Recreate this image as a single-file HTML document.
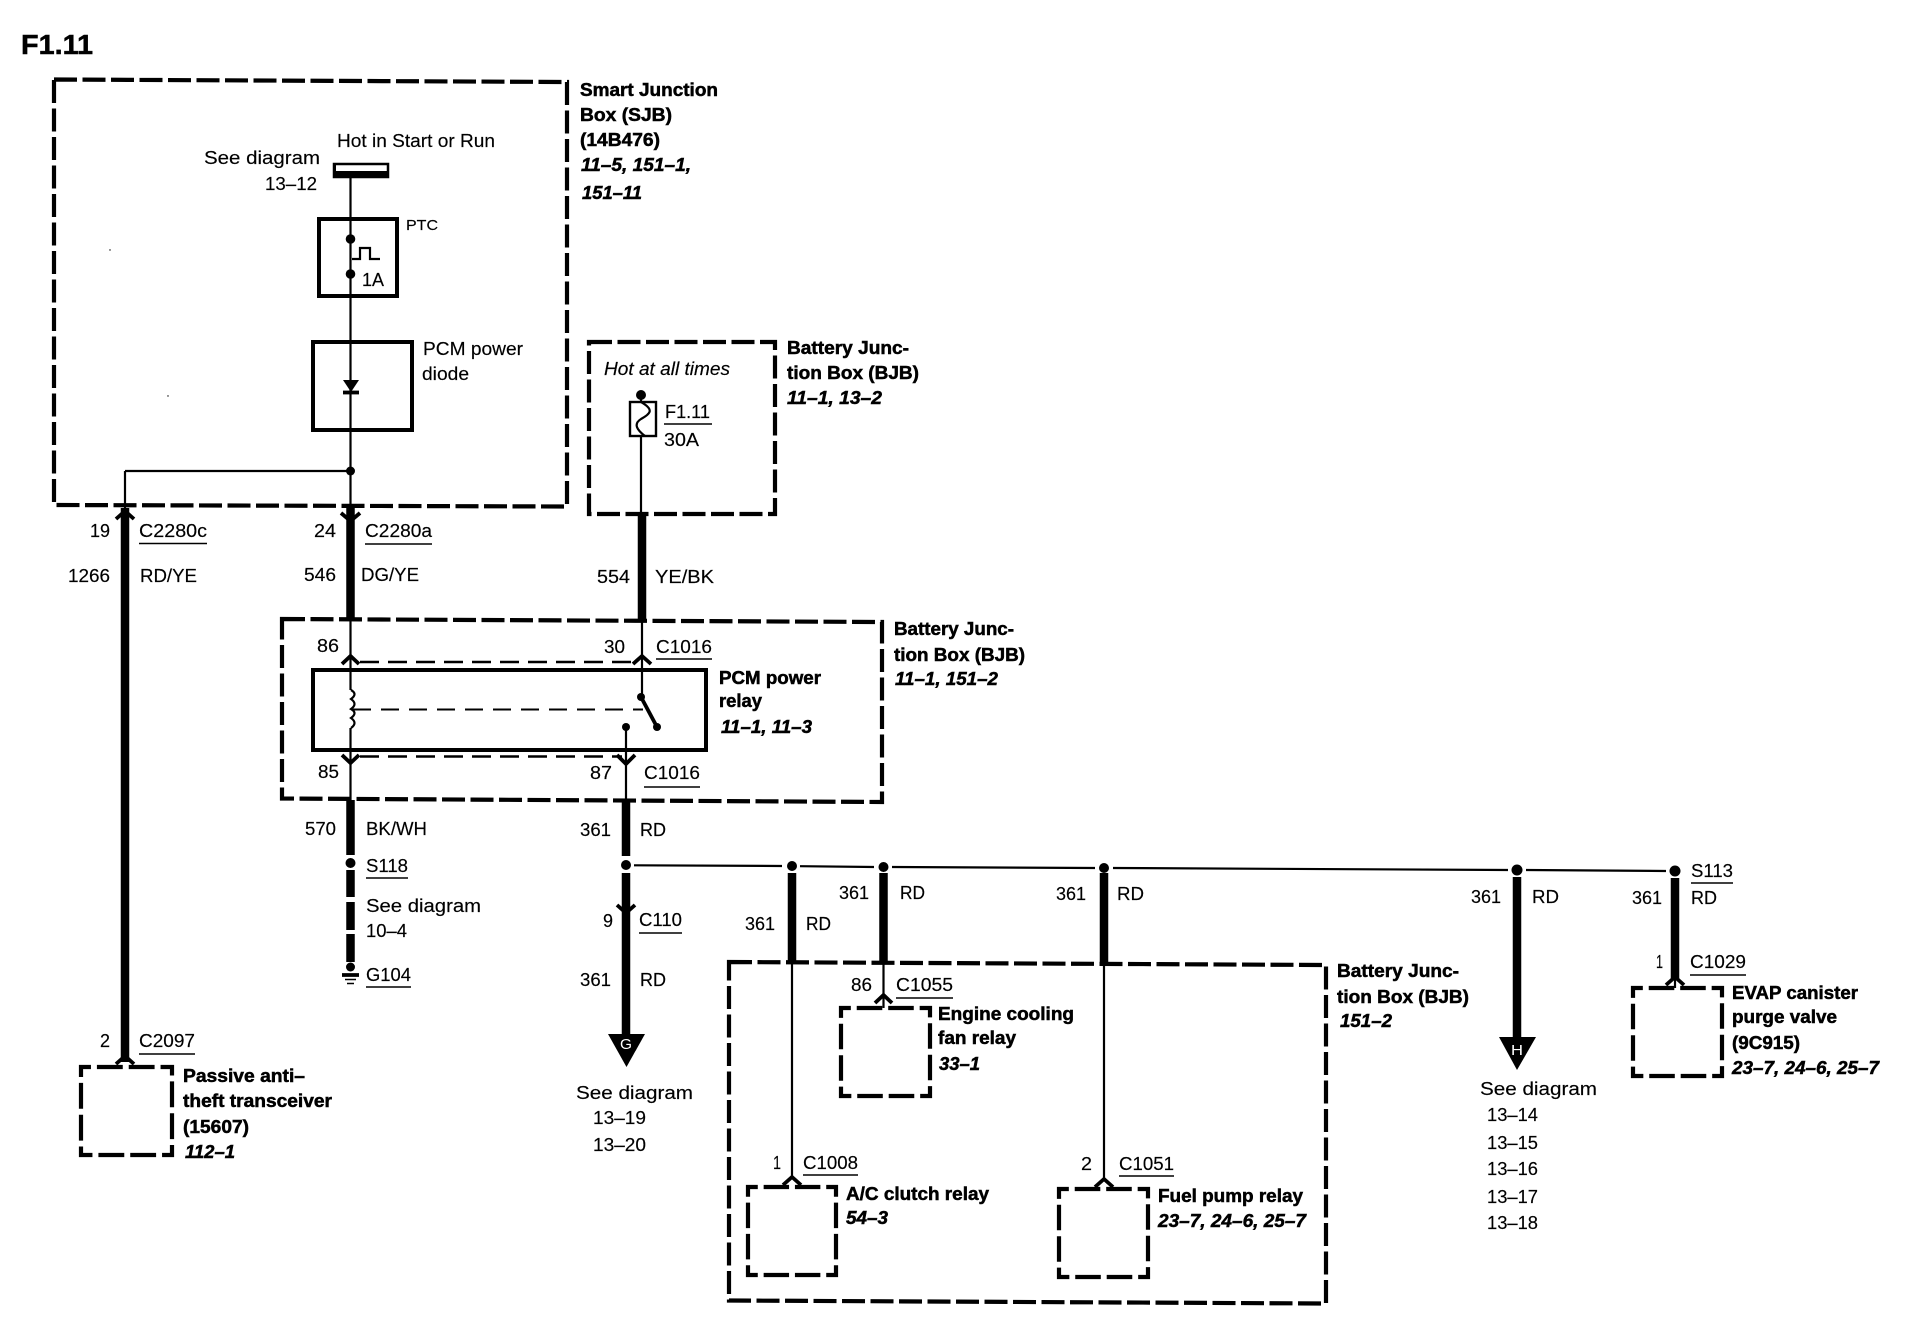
<!DOCTYPE html>
<html lang="en">
<head>
<meta charset="utf-8">
<title>F1.11 wiring diagram</title>
<style>
html,body{margin:0;padding:0;background:#fff;width:1910px;height:1344px;overflow:hidden}
svg{display:block}
text{font-family:"Liberation Sans",Arial,sans-serif;font-size:18px;fill:#000;stroke:#000;stroke-width:.15px}
.b{font-weight:700;stroke:#000;stroke-width:.5px}
.i{font-weight:700;font-style:italic;stroke:#000;stroke-width:.5px}
.n{font-style:italic}
.x{fill:#fff;stroke:none;font-size:15px}
.w{stroke:#000;stroke-width:2.2;fill:none}
.t{stroke:#000;stroke-width:8.5;fill:none}
.u{stroke:#000;stroke-width:1.5;fill:none}
.s{stroke:#000;stroke-width:4;fill:none}
.d{stroke:#000;stroke-width:4.2;fill:none;stroke-dasharray:23 5.5}
.dd{stroke:#000;stroke-width:2.4;fill:none;stroke-dasharray:19 9}
.dc{stroke:#000;stroke-width:1.9;fill:none;stroke-dasharray:18 10}
.m{stroke:#000;stroke-width:4.2;fill:none;stroke-dasharray:20 6 26 6 26 6;stroke-dashoffset:10}
.c{stroke:#000;stroke-width:3.8;fill:none}
</style>
</head>
<body>
<svg xmlns="http://www.w3.org/2000/svg" width="1910" height="1344" viewBox="0 0 1910 1344">
<rect width="1910" height="1344" fill="#fff"/>

<!-- dashed enclosures -->
<path class="d" d="M54,79.500L567,82V506.500L54,505Z"/>
<rect class="d" x="589" y="342" width="186" height="172"/>
<path class="d" d="M282,619L882,622V802L282,798.500Z"/>
<path class="d" d="M729,962L1326,965V1303.500L729,1300.500Z"/>
<rect class="m" pathLength="360" x="81" y="1067" width="91" height="88"/>
<rect class="m" pathLength="360" x="841" y="1008" width="89" height="88"/>
<rect class="m" pathLength="360" x="748" y="1187" width="88" height="88"/>
<rect class="m" pathLength="360" x="1059" y="1189" width="89" height="88"/>
<rect class="m" pathLength="360" x="1633" y="988" width="89" height="88"/>

<!-- solid component boxes -->
<rect class="s" x="319" y="219" width="78" height="77"/>
<rect class="s" x="313" y="342" width="99" height="88"/>
<rect class="s" x="313" y="670" width="393" height="80"/>

<!-- fuse terminal -->
<rect x="334" y="164" width="54" height="13" fill="#fff" stroke="#000" stroke-width="2.5"/>
<rect x="333" y="171" width="55" height="6.500" fill="#000"/>
<rect x="333" y="163" width="3" height="14" fill="#000"/>

<!-- thin wires -->
<path class="w" d="M350.5,177V620"/>
<path class="w" d="M125,471H350.5M125,471V512"/>
<path class="w" d="M641,396V514"/>
<path class="w" d="M350.5,620V690M350.5,728V800"/>
<path class="w" d="M642,620V697M626,727V800"/>
<path class="w" d="M634,865.3L782,866M800,866.2L874,867M892,867L1095,868M1113,868L1508,870M1526,870L1666,871"/>
<path class="w" d="M792,962V1178M883.5,962V998M1104,962V1180M883.5,996V1008M1675,975V988"/>

<!-- thick wires -->
<path class="t" d="M125,508V1062"/>
<path class="t" d="M350.5,508V620"/>
<path class="t" d="M642,514V620"/>
<path class="t" d="M350.5,800V855M350.5,870V897M350.5,902V930M350.5,934V962"/>
<path class="t" d="M626,800V856M626,873V1040"/>
<path class="t" d="M792,873V963M883.5,873V963M1104,873V963"/>
<path class="t" d="M1517,877V1040M1675,878V980"/>

<!-- junction dots -->
<g fill="#000">
<circle cx="350.5" cy="239" r="4.8"/>
<circle cx="350.5" cy="274" r="4.8"/>
<circle cx="350.5" cy="471" r="4.5"/>
<circle cx="641" cy="395" r="5"/>
<circle cx="350.5" cy="863" r="5"/>
<circle cx="350.5" cy="967" r="4.5"/>
<circle cx="626" cy="865" r="5"/>
<circle cx="792" cy="866" r="5"/>
<circle cx="883.5" cy="867" r="5"/>
<circle cx="1104" cy="868" r="5"/>
<circle cx="1517" cy="870" r="5.5"/>
<circle cx="1675" cy="871" r="5.5"/>
<circle cx="641" cy="697" r="4"/>
<circle cx="657" cy="727" r="4"/>
<circle cx="626" cy="727" r="4"/>
<circle cx="110" cy="250" r=".7"/>
<circle cx="168" cy="396" r=".7"/>
</g>

<!-- PTC pulse -->
<path class="w" d="M352,259H360V248H370V259H380"/>
<!-- diode -->
<path d="M343,380H359L351,392Z" fill="#000"/>
<path class="c" d="M343,392.500H359"/>
<!-- fuse -->
<rect x="630" y="402" width="26" height="34" fill="#fff" stroke="#000" stroke-width="2.4"/>
<path class="w" d="M641,402C655,410 650,414 641,419C633,424 637,430 645,436"/>
<!-- relay internals -->
<path class="w" d="M351,690q7,4 0,9q7,5 0,10q7,4 0,9q7,5 0,10"/>
<path class="dc" d="M353,709.500H643"/>
<path class="c" d="M641,697L657,727"/>
<path class="dd" d="M360,662H640"/>
<path class="dd" d="M360,756.500H622"/>
<!-- chevrons -->
<path class="c" d="M116,519L125,511L134,519M116,1064L125,1056L134,1064"/>
<path class="c" d="M341,513L350.5,521L360,513"/>
<path class="c" d="M342,664L350.5,656L359,664M633,664L642,656L651,664"/>
<path class="c" d="M342,755L350.5,763L359,755M617,755L626,764L635,755"/>
<path class="c" d="M617,905L626,913L635,905"/>
<path class="c" d="M875,1003L883.5,995L892,1003M783,1185L792,1177L801,1185M1095,1187L1104,1179L1113,1187M1666,985L1675,977L1684,985"/>
<!-- ground -->
<path class="c" d="M342,975H359"/>
<path class="u" stroke-width="2" d="M345,979.500H356M347,983.500H354"/>
<!-- flag arrows -->
<path d="M608,1034H645L626.500,1067Z" fill="#000"/>
<path d="M1499,1037H1536L1517,1070Z" fill="#000"/>

<!-- underlines -->
<path class="u" d="M139,543.500H207M365,544H432M664,424H712M656,659H712M644,787H700M366,878H408M639,933H682M366,987H411M139,1054H195M896,998H953M803,1175H858M1119,1176H1174M1691,883H1733M1690,975H1746"/>

<!-- labels -->
<text x="21" y="54" class="b" style="font-size:28px" textLength="72" lengthAdjust="spacingAndGlyphs">F1.11</text>

<text x="580" y="96" class="b" textLength="138" lengthAdjust="spacingAndGlyphs">Smart Junction</text>
<text x="580" y="121" class="b" textLength="92" lengthAdjust="spacingAndGlyphs">Box (SJB)</text>
<text x="580" y="146" class="b" textLength="80" lengthAdjust="spacingAndGlyphs">(14B476)</text>
<text x="581" y="171" class="i" textLength="110" lengthAdjust="spacingAndGlyphs">11–5, 151–1,</text>
<text x="582" y="199" class="i" textLength="60" lengthAdjust="spacingAndGlyphs">151–11</text>

<text x="337" y="147" textLength="158" lengthAdjust="spacingAndGlyphs">Hot in Start or Run</text>
<text x="204" y="164" textLength="116" lengthAdjust="spacingAndGlyphs">See diagram</text>
<text x="265" y="190" textLength="52" lengthAdjust="spacingAndGlyphs">13–12</text>
<text x="406" y="230" style="font-size:15px" textLength="32" lengthAdjust="spacingAndGlyphs">PTC</text>
<text x="362" y="286" textLength="22" lengthAdjust="spacingAndGlyphs">1A</text>
<text x="423" y="355" textLength="100" lengthAdjust="spacingAndGlyphs">PCM power</text>
<text x="422" y="380" textLength="47" lengthAdjust="spacingAndGlyphs">diode</text>

<text x="787" y="354" class="b" textLength="122" lengthAdjust="spacingAndGlyphs">Battery Junc-</text>
<text x="787" y="379" class="b" textLength="132" lengthAdjust="spacingAndGlyphs">tion Box (BJB)</text>
<text x="787" y="404" class="i" textLength="95" lengthAdjust="spacingAndGlyphs">11–1, 13–2</text>
<text x="604" y="375" class="n" textLength="126" lengthAdjust="spacingAndGlyphs">Hot at all times</text>
<text x="665" y="418" textLength="45" lengthAdjust="spacingAndGlyphs">F1.11</text>
<text x="664" y="446" textLength="35" lengthAdjust="spacingAndGlyphs">30A</text>

<text x="90" y="537" textLength="20" lengthAdjust="spacingAndGlyphs">19</text>
<text x="139" y="537" textLength="68" lengthAdjust="spacingAndGlyphs">C2280c</text>
<text x="314" y="537" textLength="22" lengthAdjust="spacingAndGlyphs">24</text>
<text x="365" y="537" textLength="67" lengthAdjust="spacingAndGlyphs">C2280a</text>
<text x="68" y="582" textLength="42" lengthAdjust="spacingAndGlyphs">1266</text>
<text x="140" y="582" textLength="57" lengthAdjust="spacingAndGlyphs">RD/YE</text>
<text x="304" y="581" textLength="32" lengthAdjust="spacingAndGlyphs">546</text>
<text x="361" y="581" textLength="58" lengthAdjust="spacingAndGlyphs">DG/YE</text>
<text x="597" y="583" textLength="33" lengthAdjust="spacingAndGlyphs">554</text>
<text x="655" y="583" textLength="59" lengthAdjust="spacingAndGlyphs">YE/BK</text>

<text x="317" y="652" textLength="22" lengthAdjust="spacingAndGlyphs">86</text>
<text x="604" y="653" textLength="21" lengthAdjust="spacingAndGlyphs">30</text>
<text x="656" y="653" textLength="56" lengthAdjust="spacingAndGlyphs">C1016</text>
<text x="894" y="635" class="b" textLength="120" lengthAdjust="spacingAndGlyphs">Battery Junc-</text>
<text x="894" y="661" class="b" textLength="131" lengthAdjust="spacingAndGlyphs">tion Box (BJB)</text>
<text x="895" y="685" class="i" textLength="103" lengthAdjust="spacingAndGlyphs">11–1, 151–2</text>
<text x="719" y="684" class="b" textLength="102" lengthAdjust="spacingAndGlyphs">PCM power</text>
<text x="719" y="707" class="b" textLength="43" lengthAdjust="spacingAndGlyphs">relay</text>
<text x="721" y="733" class="i" textLength="91" lengthAdjust="spacingAndGlyphs">11–1, 11–3</text>
<text x="318" y="778" textLength="21" lengthAdjust="spacingAndGlyphs">85</text>
<text x="590" y="779" textLength="22" lengthAdjust="spacingAndGlyphs">87</text>
<text x="644" y="779" textLength="56" lengthAdjust="spacingAndGlyphs">C1016</text>

<text x="305" y="835" textLength="31" lengthAdjust="spacingAndGlyphs">570</text>
<text x="366" y="835" textLength="61" lengthAdjust="spacingAndGlyphs">BK/WH</text>
<text x="580" y="836" textLength="31" lengthAdjust="spacingAndGlyphs">361</text>
<text x="640" y="836" textLength="26" lengthAdjust="spacingAndGlyphs">RD</text>
<text x="366" y="872" textLength="42" lengthAdjust="spacingAndGlyphs">S118</text>
<text x="366" y="912" textLength="115" lengthAdjust="spacingAndGlyphs">See diagram</text>
<text x="366" y="937" textLength="41" lengthAdjust="spacingAndGlyphs">10–4</text>
<text x="366" y="981" textLength="45" lengthAdjust="spacingAndGlyphs">G104</text>

<text x="603" y="927" textLength="10" lengthAdjust="spacingAndGlyphs">9</text>
<text x="639" y="926" textLength="43" lengthAdjust="spacingAndGlyphs">C110</text>
<text x="580" y="986" textLength="31" lengthAdjust="spacingAndGlyphs">361</text>
<text x="640" y="986" textLength="26" lengthAdjust="spacingAndGlyphs">RD</text>
<text x="620" y="1049" class="x" textLength="12" lengthAdjust="spacingAndGlyphs">G</text>
<text x="576" y="1099" textLength="117" lengthAdjust="spacingAndGlyphs">See diagram</text>
<text x="593" y="1124" textLength="53" lengthAdjust="spacingAndGlyphs">13–19</text>
<text x="593" y="1151" textLength="53" lengthAdjust="spacingAndGlyphs">13–20</text>

<text x="745" y="930" textLength="30" lengthAdjust="spacingAndGlyphs">361</text>
<text x="806" y="930" textLength="25" lengthAdjust="spacingAndGlyphs">RD</text>
<text x="839" y="899" textLength="30" lengthAdjust="spacingAndGlyphs">361</text>
<text x="900" y="899" textLength="25" lengthAdjust="spacingAndGlyphs">RD</text>
<text x="1056" y="900" textLength="30" lengthAdjust="spacingAndGlyphs">361</text>
<text x="1117" y="900" textLength="27" lengthAdjust="spacingAndGlyphs">RD</text>
<text x="1471" y="903" textLength="30" lengthAdjust="spacingAndGlyphs">361</text>
<text x="1532" y="903" textLength="27" lengthAdjust="spacingAndGlyphs">RD</text>
<text x="1632" y="904" textLength="30" lengthAdjust="spacingAndGlyphs">361</text>
<text x="1691" y="904" textLength="26" lengthAdjust="spacingAndGlyphs">RD</text>
<text x="1691" y="877" textLength="42" lengthAdjust="spacingAndGlyphs">S113</text>

<text x="851" y="991" textLength="21" lengthAdjust="spacingAndGlyphs">86</text>
<text x="896" y="991" textLength="57" lengthAdjust="spacingAndGlyphs">C1055</text>
<text x="938" y="1020" class="b" textLength="136" lengthAdjust="spacingAndGlyphs">Engine cooling</text>
<text x="938" y="1044" class="b" textLength="78" lengthAdjust="spacingAndGlyphs">fan relay</text>
<text x="939" y="1070" class="i" textLength="41" lengthAdjust="spacingAndGlyphs">33–1</text>

<text x="1337" y="977" class="b" textLength="122" lengthAdjust="spacingAndGlyphs">Battery Junc-</text>
<text x="1337" y="1003" class="b" textLength="132" lengthAdjust="spacingAndGlyphs">tion Box (BJB)</text>
<text x="1340" y="1027" class="i" textLength="52" lengthAdjust="spacingAndGlyphs">151–2</text>

<text x="773" y="1169" textLength="8" lengthAdjust="spacingAndGlyphs">1</text>
<text x="803" y="1169" textLength="55" lengthAdjust="spacingAndGlyphs">C1008</text>
<text x="846" y="1200" class="b" textLength="143" lengthAdjust="spacingAndGlyphs">A/C clutch relay</text>
<text x="846" y="1224" class="i" textLength="42" lengthAdjust="spacingAndGlyphs">54–3</text>
<text x="1081" y="1170" textLength="11" lengthAdjust="spacingAndGlyphs">2</text>
<text x="1119" y="1170" textLength="55" lengthAdjust="spacingAndGlyphs">C1051</text>
<text x="1158" y="1202" class="b" textLength="145" lengthAdjust="spacingAndGlyphs">Fuel pump relay</text>
<text x="1158" y="1227" class="i" textLength="148" lengthAdjust="spacingAndGlyphs">23–7, 24–6, 25–7</text>

<text x="1511" y="1055" class="x" textLength="12" lengthAdjust="spacingAndGlyphs">H</text>
<text x="1480" y="1095" textLength="117" lengthAdjust="spacingAndGlyphs">See diagram</text>
<text x="1487" y="1121" textLength="51" lengthAdjust="spacingAndGlyphs">13–14</text>
<text x="1487" y="1149" textLength="51" lengthAdjust="spacingAndGlyphs">13–15</text>
<text x="1487" y="1175" textLength="51" lengthAdjust="spacingAndGlyphs">13–16</text>
<text x="1487" y="1203" textLength="51" lengthAdjust="spacingAndGlyphs">13–17</text>
<text x="1487" y="1229" textLength="51" lengthAdjust="spacingAndGlyphs">13–18</text>

<text x="1656" y="968" textLength="7" lengthAdjust="spacingAndGlyphs">1</text>
<text x="1690" y="968" textLength="56" lengthAdjust="spacingAndGlyphs">C1029</text>
<text x="1732" y="999" class="b" textLength="126" lengthAdjust="spacingAndGlyphs">EVAP canister</text>
<text x="1732" y="1023" class="b" textLength="105" lengthAdjust="spacingAndGlyphs">purge valve</text>
<text x="1732" y="1049" class="b" textLength="68" lengthAdjust="spacingAndGlyphs">(9C915)</text>
<text x="1732" y="1074" class="i" textLength="147" lengthAdjust="spacingAndGlyphs">23–7, 24–6, 25–7</text>

<text x="100" y="1047" textLength="10" lengthAdjust="spacingAndGlyphs">2</text>
<text x="139" y="1047" textLength="56" lengthAdjust="spacingAndGlyphs">C2097</text>
<text x="183" y="1082" class="b" textLength="122" lengthAdjust="spacingAndGlyphs">Passive anti–</text>
<text x="183" y="1107" class="b" textLength="149" lengthAdjust="spacingAndGlyphs">theft transceiver</text>
<text x="183" y="1133" class="b" textLength="66" lengthAdjust="spacingAndGlyphs">(15607)</text>
<text x="185" y="1158" class="i" textLength="50" lengthAdjust="spacingAndGlyphs">112–1</text>
</svg>
</body>
</html>
